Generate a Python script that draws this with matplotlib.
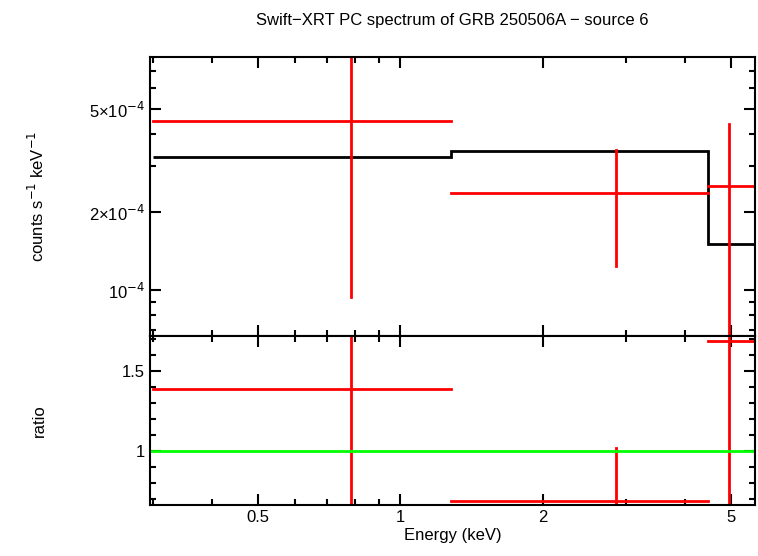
import matplotlib
matplotlib.use("Agg")
import matplotlib.pyplot as plt
from matplotlib.ticker import FixedLocator, NullFormatter, LogLocator
import numpy as np

plt.rcParams["font.family"] = "Liberation Sans"

bin_lo = [0.3, 1.28, 4.47]
bin_hi = [1.28, 4.47, 5.7]
bin_c = [0.785, 2.85, 4.95]
rate = [4.5e-4, 2.37e-4, 2.52e-4]
rate_lo = [9.4e-5, 1.24e-4, 5e-5]
rate_hi = [1e-3, 3.47e-4, 4.37e-4]
model = [3.26e-4, 3.44e-4, 1.5e-4]
ratio = [1.39, 0.69, 1.69]
ratio_lo = [0.4, 0.4, 0.4]
ratio_hi = [2.0, 1.02, 2.0]

fig = plt.figure(figsize=(7.58, 5.56), dpi=100)
W, H = 758, 556
ax1 = fig.add_axes([150/W, 1-336/H, 605/W, 279/H])
ax2 = fig.add_axes([150/W, 1-505/H, 605/W, 169/H], sharex=ax1)

for i in range(3):
    ax1.plot([bin_lo[i], bin_hi[i]], [rate[i]]*2, color="red", lw=2)
    ax1.plot([bin_c[i]]*2, [rate_lo[i], rate_hi[i]], color="red", lw=2)
    ax2.plot([bin_lo[i], bin_hi[i]], [ratio[i]]*2, color="red", lw=2)
    ax2.plot([bin_c[i]]*2, [ratio_lo[i], ratio_hi[i]], color="red", lw=2)
edges = bin_lo + [bin_hi[-1]]
ax1.stairs(model, edges, color="black", lw=2, baseline=None)
ax2.axhline(1, color="#00ff00", lw=2)

ax1.set_xscale("log"); ax1.set_yscale("log")
ax1.set_xlim(0.2956, 5.62)
ax1.set_ylim(6.64e-5, 7.94e-4)
ax2.set_ylim(0.663, 1.72)

ax1.yaxis.set_major_locator(FixedLocator([1e-4, 2e-4, 5e-4]))
ax1.set_yticklabels([r"10$^{-4}$", r"2×10$^{-4}$", r"5×10$^{-4}$"])
ax1.yaxis.set_minor_locator(LogLocator(subs=np.arange(1, 10)))
ax1.yaxis.set_minor_formatter(NullFormatter())
ax2.xaxis.set_major_locator(FixedLocator([0.5, 1, 2, 5]))
ax2.set_xticklabels(["0.5", "1", "2", "5"])
ax2.xaxis.set_minor_locator(LogLocator(subs=np.arange(1, 10)))
ax2.xaxis.set_minor_formatter(NullFormatter())
ax2.yaxis.set_major_locator(FixedLocator([1, 1.5]))
ax2.set_yticklabels(["1", "1.5"])
ax2.yaxis.set_minor_locator(FixedLocator(np.arange(0.7, 1.75, 0.1)))
plt.setp(ax1.get_xticklabels(), visible=False)

for ax in (ax1, ax2):
    ax.tick_params(which="both", direction="in", top=True, right=True, labelsize=12, width=1.5)
    ax.tick_params(which="major", length=8)
    ax.tick_params(which="minor", length=4)
    for s in ax.spines.values():
        s.set_linewidth(1.5)

ax1.set_ylabel(r"counts s$^{-1}$ keV$^{-1}$", fontsize=12)
ax2.set_ylabel("ratio", fontsize=12)
ax2.set_xlabel("Energy (keV)", fontsize=12, labelpad=2)
ax2.yaxis.set_label_coords(-0.17, 0.5)
ax1.yaxis.set_label_coords(-0.17, 0.5)
fig.text(452/W, 1-20/H, "Swift\u2212XRT PC spectrum of GRB 250506A \u2212 source 6",
         ha="center", va="center", fontsize=12)
fig.savefig("out.png", dpi=100)
